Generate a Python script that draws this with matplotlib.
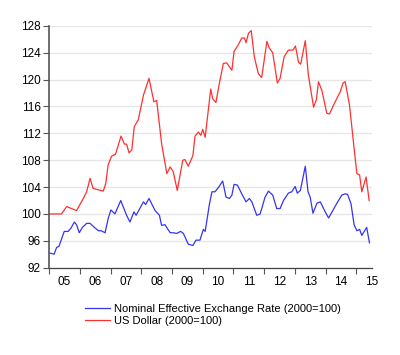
import matplotlib
matplotlib.use("Agg")
from matplotlib import pyplot as plt

plt.rcParams["font.family"] = ["Liberation Sans", "DejaVu Sans"]

# decimal years
usd_dates = [
    2005.00, 2005.40, 2005.57, 2005.89, 2006.11, 2006.22, 2006.33, 2006.43,
    2006.76, 2006.84, 2006.92, 2007.03, 2007.16, 2007.34, 2007.45, 2007.52,
    2007.60, 2007.69, 2007.77, 2007.90, 2008.07, 2008.25, 2008.41, 2008.50,
    2008.66, 2008.83, 2008.94, 2009.04, 2009.17, 2009.35, 2009.42, 2009.53,
    2009.68, 2009.75, 2009.86, 2009.94, 2010.00, 2010.08, 2010.26, 2010.33,
    2010.43, 2010.54, 2010.67, 2010.78, 2010.95, 2011.02, 2011.16, 2011.27,
    2011.36, 2011.41, 2011.49, 2011.58, 2011.68, 2011.81, 2011.92, 2012.09,
    2012.17, 2012.28, 2012.43, 2012.52, 2012.65, 2012.79, 2012.94, 2013.02,
    2013.12, 2013.19, 2013.34, 2013.44, 2013.61, 2013.70, 2013.77, 2013.88,
    2014.04, 2014.13, 2014.26, 2014.39, 2014.48, 2014.57, 2014.64, 2014.78,
    2014.89, 2015.02, 2015.11, 2015.18, 2015.32, 2015.42,
]
usd_values = [
    100.0, 100.0, 101.1, 100.5, 102.3, 103.3, 105.3, 103.8,
    103.4, 104.5, 107.3, 108.6, 108.9, 111.6, 110.4, 110.4,
    109.1, 109.5, 113.0, 114.0, 117.7, 120.2, 116.7, 116.9,
    110.5, 106.0, 107.0, 106.3, 103.5, 108.0, 108.1, 107.1,
    108.7, 111.6, 112.2, 111.7, 112.6, 111.4, 118.6, 117.1,
    116.6, 119.4, 122.4, 122.5, 121.4, 124.2, 125.2, 126.2,
    126.2, 125.5, 126.9, 127.3, 123.4, 120.9, 120.3, 125.7,
    124.7, 124.0, 119.5, 120.2, 123.4, 124.4, 124.4, 125.0,
    122.6, 122.3, 125.8, 120.7, 115.9, 117.0, 119.7, 118.4,
    115.0, 114.9, 116.2, 117.4, 118.2, 119.5, 119.7, 116.2,
    111.5, 106.0, 105.8, 103.3, 105.5, 102.0,
]

neer_dates = [
    2005.00, 2005.16, 2005.24, 2005.32, 2005.49, 2005.62, 2005.71, 2005.82,
    2005.89, 2005.98, 2006.08, 2006.22, 2006.33, 2006.47, 2006.60, 2006.69,
    2006.82, 2006.92, 2007.01, 2007.14, 2007.33, 2007.52, 2007.63, 2007.76,
    2007.83, 2008.07, 2008.14, 2008.25, 2008.45, 2008.59, 2008.66, 2008.77,
    2008.94, 2009.04, 2009.15, 2009.28, 2009.37, 2009.53, 2009.68, 2009.78,
    2009.91, 2010.02, 2010.08, 2010.22, 2010.30, 2010.40, 2010.52, 2010.65,
    2010.76, 2010.87, 2010.95, 2011.02, 2011.13, 2011.27, 2011.41, 2011.52,
    2011.60, 2011.76, 2011.87, 2012.03, 2012.14, 2012.28, 2012.41, 2012.52,
    2012.63, 2012.79, 2012.90, 2013.01, 2013.08, 2013.18, 2013.34, 2013.43,
    2013.50, 2013.59, 2013.72, 2013.83, 2013.99, 2014.10, 2014.21, 2014.37,
    2014.53, 2014.64, 2014.72, 2014.83, 2014.93, 2015.02, 2015.11, 2015.18,
    2015.34, 2015.43,
]
neer_values = [
    94.2, 94.0, 95.0, 95.2, 97.4, 97.4, 97.9, 98.8,
    98.4, 97.2, 98.0, 98.6, 98.6, 98.0, 97.5, 97.5,
    97.2, 99.3, 100.6, 100.0, 102.0, 99.8, 98.8, 100.3,
    99.8, 101.8, 101.4, 102.3, 100.5, 99.8, 98.3, 98.4,
    97.2, 97.2, 97.1, 97.4, 97.1, 95.5, 95.3, 96.1,
    96.1, 97.7, 97.4, 101.5, 103.3, 103.3, 104.0, 104.9,
    102.5, 102.3, 102.8, 104.4, 104.3, 103.0, 101.8, 102.3,
    101.8, 99.8, 100.0, 102.5, 103.4, 102.8, 100.8, 100.8,
    102.0, 103.1, 103.3, 104.1, 103.1, 103.5, 107.1, 103.3,
    102.5, 100.1, 101.6, 101.8, 100.3, 99.4, 100.3, 101.6,
    102.8, 103.0, 102.9, 101.5, 98.4, 97.5, 97.7, 96.8,
    98.0, 95.7,
]

years = list(range(2005, 2016))
year_labels = ["05", "06", "07", "08", "09", "10", "11", "12", "13", "14", "15"]
y_ticks = [92, 96, 100, 104, 108, 112, 116, 120, 124, 128]

fig = plt.figure(figsize=(4.0, 3.55), dpi=100)
ax = fig.add_axes([0.123, 0.246, 0.806, 0.681])

ax.plot(neer_dates, neer_values, color="#3535f0", linewidth=0.9,
        label="Nominal Effective Exchange Rate (2000=100)")
ax.plot(usd_dates, usd_values, color="#ff3030", linewidth=0.9,
        label="US Dollar (2000=100)")

ax.set_xlim(2005, 2015.5)
ax.set_ylim(92, 128)
ax.set_yticks(y_ticks)
ax.yaxis.grid(True, color="#e6e6e6", linewidth=0.9)
ax.set_axisbelow(True)

# year boundaries get the tick marks, labels sit in the middle of each year
ax.set_xticks(years)
ax.set_xticklabels([])
ax.set_xticks([y + 0.5 for y in years], minor=True)
ax.set_xticklabels(year_labels, minor=True)
ax.tick_params(axis="x", which="major", length=4, width=0.8, color="#555555")
ax.tick_params(axis="x", which="minor", length=0, pad=6, labelsize=8.5)
ax.tick_params(axis="y", length=4, width=0.8, color="#555555", labelsize=8.5, pad=2)

for side in ["top", "right"]:
    ax.spines[side].set_visible(False)
ax.spines["left"].set_color("#555555")
ax.spines["left"].set_linewidth(1.2)
ax.spines["bottom"].set_color("#444444")
ax.spines["bottom"].set_linewidth(0.9)

fig.legend(loc="upper left", bbox_to_anchor=(0.212, 0.143), frameon=False,
           fontsize=8.0, handlelength=2.3, handletextpad=0.35, labelspacing=0.12,
           borderaxespad=0, borderpad=0)

fig.savefig("out.png", dpi=100)
